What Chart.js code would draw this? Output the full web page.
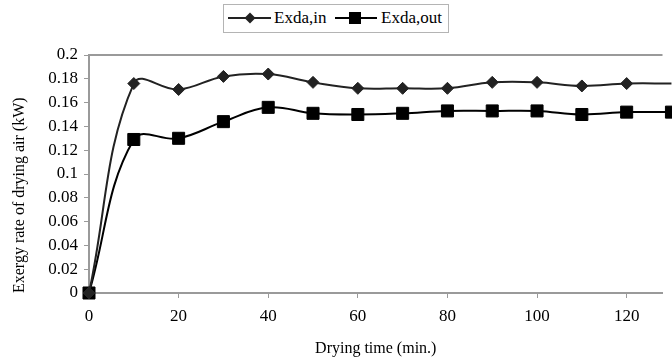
<!DOCTYPE html>
<html>
<head>
<meta charset="utf-8">
<script src="https://cdn.jsdelivr.net/npm/chart.js@4/dist/chart.umd.min.js"></script>
<style>
html, body { margin: 0; padding: 0; background: #fff; }
#wrap { position: relative; width: 672px; height: 360px; }
#legend { position: absolute; left: 223px; top: 4px; width: 224px; height: 27px; border: 1px solid #b4b4b4; background: #fff;
	font-family: 'Liberation Serif', 'Times New Roman', serif; font-size: 17px; color: #000; }
#legend .sym { position: absolute; top: 6px; }
#legend .txt { position: absolute; top: 3px; line-height: 20px; white-space: nowrap; }
</style>
</head>
<body>
<div id="wrap">
	<canvas id="chart1" width="672" height="360"></canvas>
	<div id="legend">
		<svg class="sym" style="left:4px" width="43" height="14"><line x1="0" y1="7" x2="43" y2="7" stroke="#222" stroke-width="2"/><polygon points="22,1.5 27.5,7 22,12.5 16.5,7" fill="#222"/></svg>
		<span class="txt" style="left:50px">Exda,in</span>
		<svg class="sym" style="left:111px" width="42" height="14"><line x1="0" y1="7" x2="42" y2="7" stroke="#000" stroke-width="2"/><rect x="14" y="1" width="12" height="12" fill="#000"/></svg>
		<span class="txt" style="left:157px">Exda,out</span>
	</div>
</div>
<script>
'use strict';
// drying time (min.)
var timeMin = [0, 10, 20, 30, 40, 50, 60, 70, 80, 90, 100, 110, 120, 130];
// exergy rate of drying air (kW)
var exdaIn = [0, 0.176, 0.171, 0.182, 0.184, 0.177, 0.172, 0.172, 0.172, 0.177, 0.177, 0.174, 0.176, 0.176];
var exdaOut = [0, 0.129, 0.130, 0.144, 0.156, 0.151, 0.150, 0.151, 0.153, 0.153, 0.153, 0.150, 0.152, 0.152];
var xTicks = [0, 20, 40, 60, 80, 100, 120];
var yTicks = [0, 0.02, 0.04, 0.06, 0.08, 0.1, 0.12, 0.14, 0.16, 0.18, 0.2];

var font = { family: "'Liberation Serif', 'Times New Roman', serif", size: 17 };
var titleFont = { family: "'Liberation Serif', 'Times New Roman', serif", size: 16 };

var toPoints = function (ys) {
	return timeMin.map(function (t, i) { return { x: t, y: ys[i] }; });
};

// top edge of the plot frame
var frameTop = {
	id: 'frameTop',
	beforeDatasetsDraw: function (chart) {
		var a = chart.chartArea, ctx = chart.ctx;
		ctx.save();
		ctx.strokeStyle = '#9a9a9a';
		ctx.lineWidth = 2;
		ctx.beginPath();
		ctx.moveTo(a.left, a.top);
		ctx.lineTo(a.right, a.top);
		ctx.stroke();
		ctx.restore();
	}
};

var ctx = document.getElementById('chart1');
var myChart = new Chart(ctx, {
	type: 'line',
	data: {
		datasets: [{
			label: 'Exda,in',
			data: toPoints(exdaIn),
			borderColor: '#222',
			backgroundColor: '#222',
			borderWidth: 2,
			pointStyle: 'rectRot',
			pointRadius: 6,
			pointBorderWidth: 1,
			tension: 0.4,
			clip: false
		}, {
			label: 'Exda,out',
			data: toPoints(exdaOut),
			borderColor: '#000',
			backgroundColor: '#000',
			borderWidth: 2,
			pointStyle: 'rect',
			pointRadius: 8.5,
			pointBorderWidth: 1,
			tension: 0.4,
			clip: false
		}]
	},
	options: {
		responsive: false,
		animation: false,
		devicePixelRatio: 1,
		layout: { padding: { top: 55, left: 0, right: 0, bottom: 0 } },
		plugins: {
			legend: { display: false },
			tooltip: { enabled: false }
		},
		scales: {
			x: {
				type: 'linear',
				min: 0,
				max: 128,
				afterBuildTicks: function (scale) {
					scale.ticks = xTicks.map(function (v) { return { value: v }; });
				},
				afterFit: function (scale) { scale.height = 67; },
				border: { color: '#9a9a9a', width: 2 },
				grid: { drawOnChartArea: false, drawTicks: true, tickLength: 5, color: '#9a9a9a' },
				ticks: { color: '#000', font: font, padding: 8, maxRotation: 0 },
				title: { display: true, text: 'Drying time (min.)', color: '#000', font: titleFont, padding: { top: 0, bottom: 2 } }
			},
			y: {
				min: 0,
				max: 0.2,
				afterBuildTicks: function (scale) {
					scale.ticks = yTicks.map(function (v) { return { value: v }; });
				},
				afterFit: function (scale) { scale.width = 89; },
				border: { color: '#9a9a9a', width: 2 },
				grid: { drawOnChartArea: false, drawTicks: true, tickLength: 5, color: '#9a9a9a' },
				ticks: {
					color: '#000', font: font, padding: 6,
					callback: function (v) { return String(Math.round(v * 100) / 100); }
				},
				title: { display: true, text: 'Exergy rate of drying air (kW)', align: 'start', color: '#000', font: titleFont, padding: { top: 10, bottom: 0 } }
			}
		}
	},
	plugins: [frameTop]
});
</script>
</body>
</html>
